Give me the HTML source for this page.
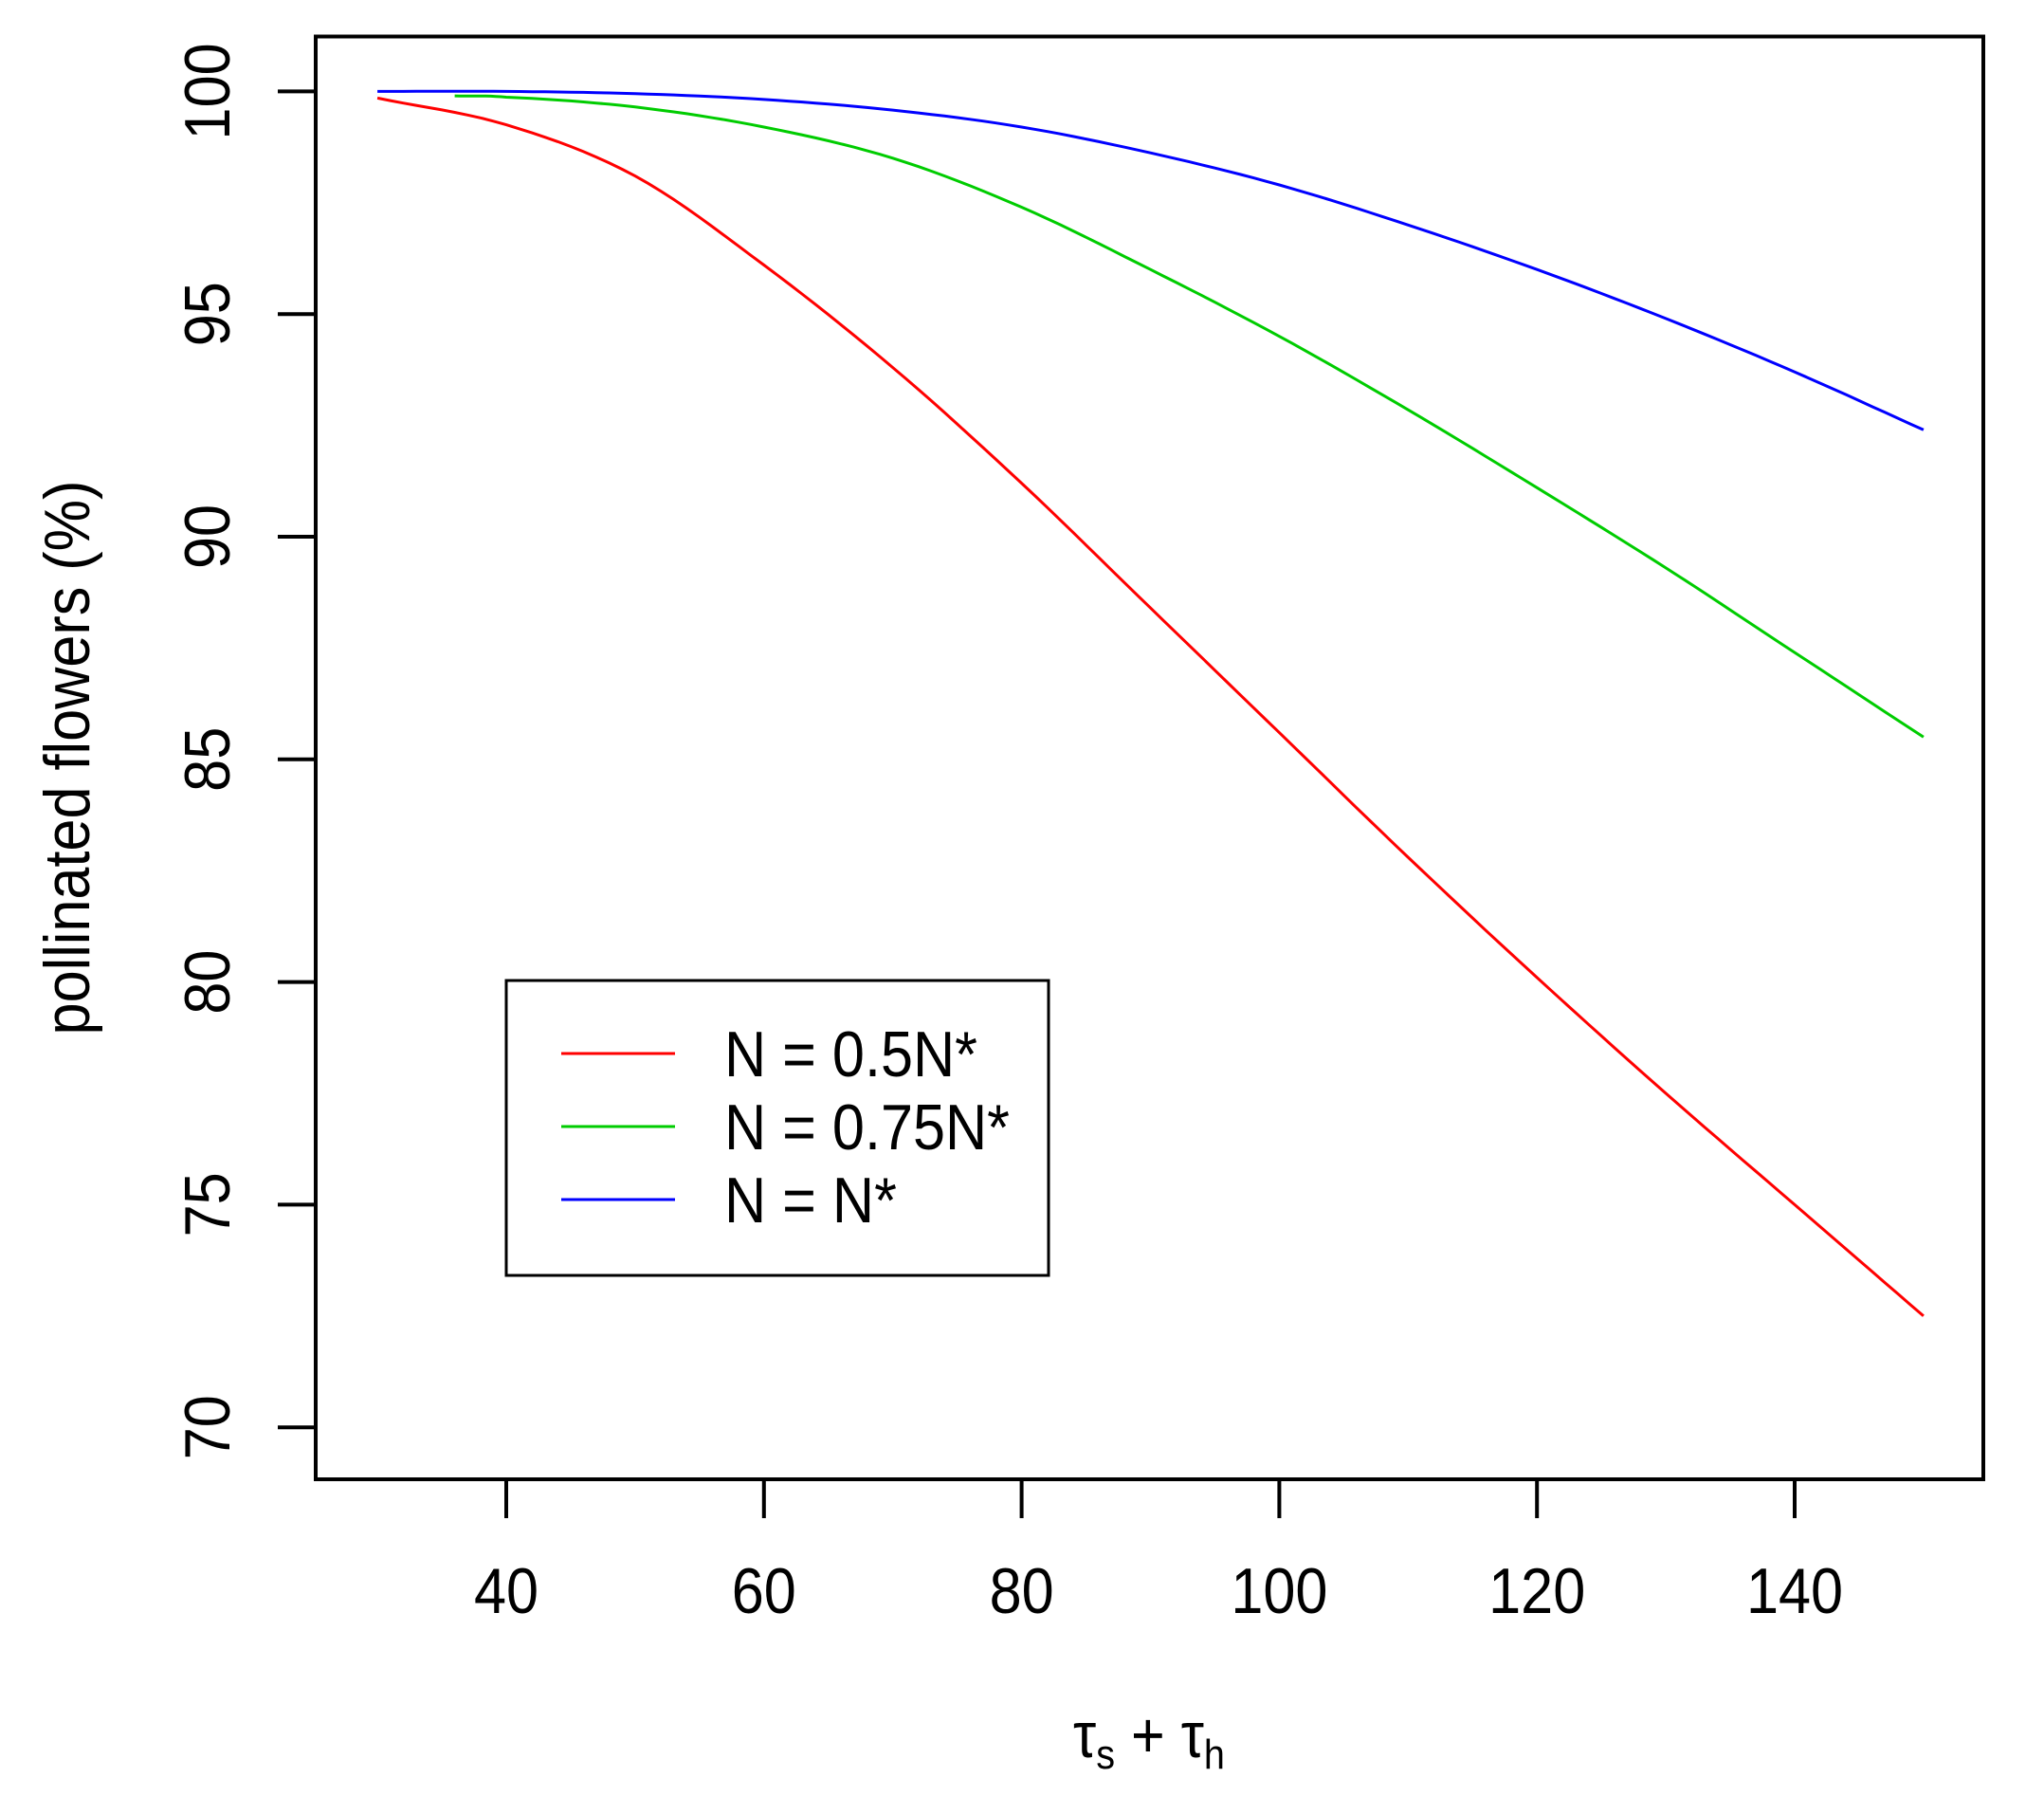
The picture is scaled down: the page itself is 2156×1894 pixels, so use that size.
<!DOCTYPE html>
<html><head><meta charset="utf-8"><style>
html,body{margin:0;padding:0;background:#fff;}
svg{display:block;}
text{font-family:"Liberation Sans",Arial,sans-serif;fill:#000;}
</style></head><body>
<svg id="s" width="2156" height="1894" viewBox="0 0 2156 1894" xmlns="http://www.w3.org/2000/svg">
<rect x="333" y="38.5" width="1759" height="1521.5" fill="none" stroke="#000" stroke-width="4"/>
<g stroke="#000" stroke-width="4">
<line x1="534" y1="1560" x2="534" y2="1601"/>
<line x1="805.8" y1="1560" x2="805.8" y2="1601"/>
<line x1="1077.6" y1="1560" x2="1077.6" y2="1601"/>
<line x1="1349.4" y1="1560" x2="1349.4" y2="1601"/>
<line x1="1621.2" y1="1560" x2="1621.2" y2="1601"/>
<line x1="1893" y1="1560" x2="1893" y2="1601"/>
<line x1="293" y1="96.4" x2="333" y2="96.4"/>
<line x1="293" y1="331.2" x2="333" y2="331.2"/>
<line x1="293" y1="566" x2="333" y2="566"/>
<line x1="293" y1="800.8" x2="333" y2="800.8"/>
<line x1="293" y1="1035.6" x2="333" y2="1035.6"/>
<line x1="293" y1="1270.4" x2="333" y2="1270.4"/>
<line x1="293" y1="1505.2" x2="333" y2="1505.2"/>
</g>
<g font-size="68" text-anchor="middle">
<text transform="translate(534,1701) scale(0.9,1)">40</text>
<text transform="translate(805.8,1701) scale(0.9,1)">60</text>
<text transform="translate(1077.6,1701) scale(0.9,1)">80</text>
<text transform="translate(1349.4,1701) scale(0.9,1)">100</text>
<text transform="translate(1621.2,1701) scale(0.9,1)">120</text>
<text transform="translate(1893,1701) scale(0.9,1)">140</text>
<text transform="translate(242,96.4) rotate(-90) scale(0.9,1)">100</text>
<text transform="translate(242,331.2) rotate(-90) scale(0.9,1)">95</text>
<text transform="translate(242,566) rotate(-90) scale(0.9,1)">90</text>
<text transform="translate(242,800.8) rotate(-90) scale(0.9,1)">85</text>
<text transform="translate(242,1035.6) rotate(-90) scale(0.9,1)">80</text>
<text transform="translate(242,1270.4) rotate(-90) scale(0.9,1)">75</text>
<text transform="translate(242,1505.2) rotate(-90) scale(0.9,1)">70</text>
<text transform="translate(94,799) rotate(-90) scale(0.9,1)">pollinated flowers (%)</text>
<text transform="translate(1212,1853) scale(0.9,1)">τ<tspan font-size="44" dy="12">s</tspan><tspan dy="-12"> + τ</tspan><tspan font-size="44" dy="12">h</tspan></text>
</g>
<g fill="none" stroke-width="3">
<polyline id="r" stroke="#ff0000"/>
<polyline id="g" stroke="#00cc00"/>
<polyline id="b" stroke="#0000ff"/>
</g>
<rect x="534" y="1034" width="572" height="311" fill="#fff" stroke="#000" stroke-width="3"/>
<g stroke-width="3">
<line x1="592" y1="1111" x2="712" y2="1111" stroke="#ff0000"/>
<line x1="592" y1="1188" x2="712" y2="1188" stroke="#00cc00"/>
<line x1="592" y1="1265" x2="712" y2="1265" stroke="#0000ff"/>
</g>
<g font-size="68">
<text transform="translate(764,1135) scale(0.9,1)">N = 0.5N*</text>
<text transform="translate(764,1212) scale(0.9,1)">N = 0.75N*</text>
<text transform="translate(764,1289) scale(0.9,1)">N = N*</text>
</g>
</svg>
<script>
function X(x){return 534+(x-40)*13.59;}
function Y(y){return 96.4+(100-y)*46.96;}
function build(id,xs,ys){
  var pts=[],n=ys.length;
  for(var i=0;i<n-1;i++){
    var x0=xs[i],x1=xs[i+1];
    var p1=ys[i],p2=ys[i+1];
    var p0=i>0?ys[i-1]:2*p1-p2;
    var p3=i+2<n?ys[i+2]:2*p2-p1;
    for(var k=0;k<10;k++){
      var t=k/10,t2=t*t,t3=t2*t;
      var y=0.5*((2*p1)+(-p0+p2)*t+(2*p0-5*p1+4*p2-p3)*t2+(-p0+3*p1-3*p2+p3)*t3);
      pts.push(X(x0+(x1-x0)*t).toFixed(1)+","+Y(y).toFixed(1));
    }
  }
  pts.push(X(xs[n-1]).toFixed(1)+","+Y(ys[n-1]).toFixed(1));
  document.getElementById(id).setAttribute("points",pts.join(" "));
}
var xs=[30,40,50,60,70,80,90,100,110,120,130,140,150];
build("r",xs,[99.85,99.25,98.1,96.1,93.8,91.2,88.4,85.6,82.8,80.1,77.5,75.0,72.5]);
build("g",[36,40,50,60,70,80,90,100,110,120,130,140,150],[99.9,99.87,99.65,99.2,98.5,97.4,96.0,94.5,92.85,91.1,89.3,87.4,85.5]);
build("b",xs,[100,100,99.95,99.82,99.58,99.2,98.62,97.9,97.0,96.0,94.9,93.7,92.4]);
</script>
</body></html>
